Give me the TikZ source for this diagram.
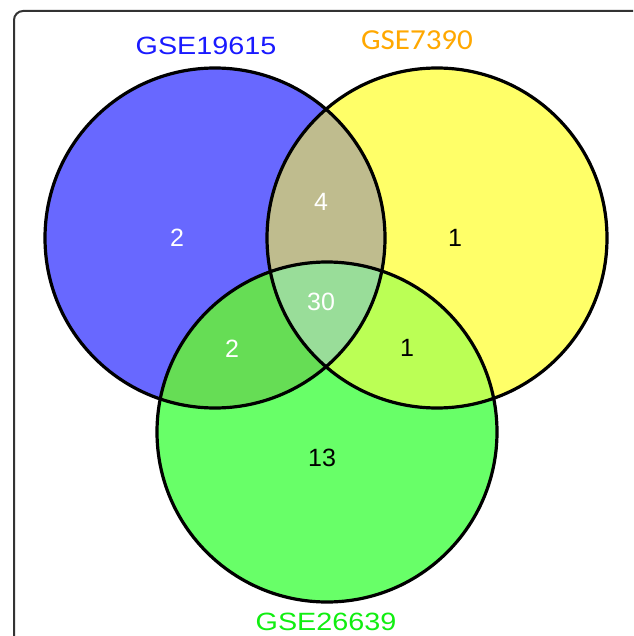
\documentclass[tikz,border=0pt]{standalone}
\usepackage{fontspec}
\setmainfont{Liberation Sans}
\newfontfamily\carl{Carlito}
\definecolor{cblue}{HTML}{6868FF}
\definecolor{cyellow}{HTML}{FFFF68}
\definecolor{cgreen}{HTML}{68FF68}
\definecolor{cby}{HTML}{BFBC8E}
\definecolor{cbg}{HTML}{66DD55}
\definecolor{cyg}{HTML}{BBFF55}
\definecolor{cbyg}{HTML}{99DD99}
\definecolor{tblue}{HTML}{1A1AFF}
\definecolor{torange}{HTML}{FFA800}
\definecolor{tgreen}{HTML}{11EE11}
\tikzset{
  num/.style={font=\fontsize{25}{25}\selectfont, inner sep=0pt},
  setlabel/.style={font=\fontsize{25}{25}\selectfont, inner sep=0pt, xscale=1.15},
  ring/.style={draw=black, line width=3.2pt}
}
\begin{document}
\begin{tikzpicture}[x=1pt,y=-1pt]
\useasboundingbox (0,0) rectangle (633,636);
\fill[white] (0,0) rectangle (633,636);
\begin{scope}
\clip (0,0) rectangle (633,636);
\draw[draw=black!80, line width=2pt, rounded corners=9pt] (14,11) rectangle (660,680);
\end{scope}
% circle fills
\fill[cblue] (215,238) circle [radius=170pt];
\fill[cyellow] (437,238) circle [radius=170pt];
\fill[cgreen] (327,432) circle [radius=170pt];
% pairwise intersections
\begin{scope}
\clip (215,238) circle [radius=170pt];
\fill[cby] (437,238) circle [radius=170pt];
\fill[cbg] (327,432) circle [radius=170pt];
\end{scope}
\begin{scope}
\clip (437,238) circle [radius=170pt];
\fill[cyg] (327,432) circle [radius=170pt];
\end{scope}
\begin{scope}
\clip (215,238) circle [radius=170pt];
\clip (437,238) circle [radius=170pt];
\fill[cbyg] (327,432) circle [radius=170pt];
\end{scope}
% outlines
\draw[ring] (215,238) circle [radius=170pt];
\draw[ring] (437,238) circle [radius=170pt];
\draw[ring] (327,432) circle [radius=170pt];
% set labels
\node[setlabel, text=tblue] (lb) at (206,46) {GSE19615};
\node[font=\carl\fontsize{29}{29}\selectfont, inner sep=0pt, text=torange, xscale=1.07] (ly) at (417,40) {GSE7390};
\node[setlabel, text=tgreen] (lg) at (326,622) {GSE26639};
% counts
\node[num, text=white] (nb) at (177,238) {2};
\node[num, text=white] (nby) at (321,202) {4};
\node[num] (ny) at (455,238) {1};
\node[num, text=white] (nbyg) at (321,302) {30};
\node[num, text=white] (nbg) at (232,349) {2};
\node[num] (nyg) at (407,348) {1};
\node[num] (ng) at (322,458) {13};
\end{tikzpicture}
\end{document}
